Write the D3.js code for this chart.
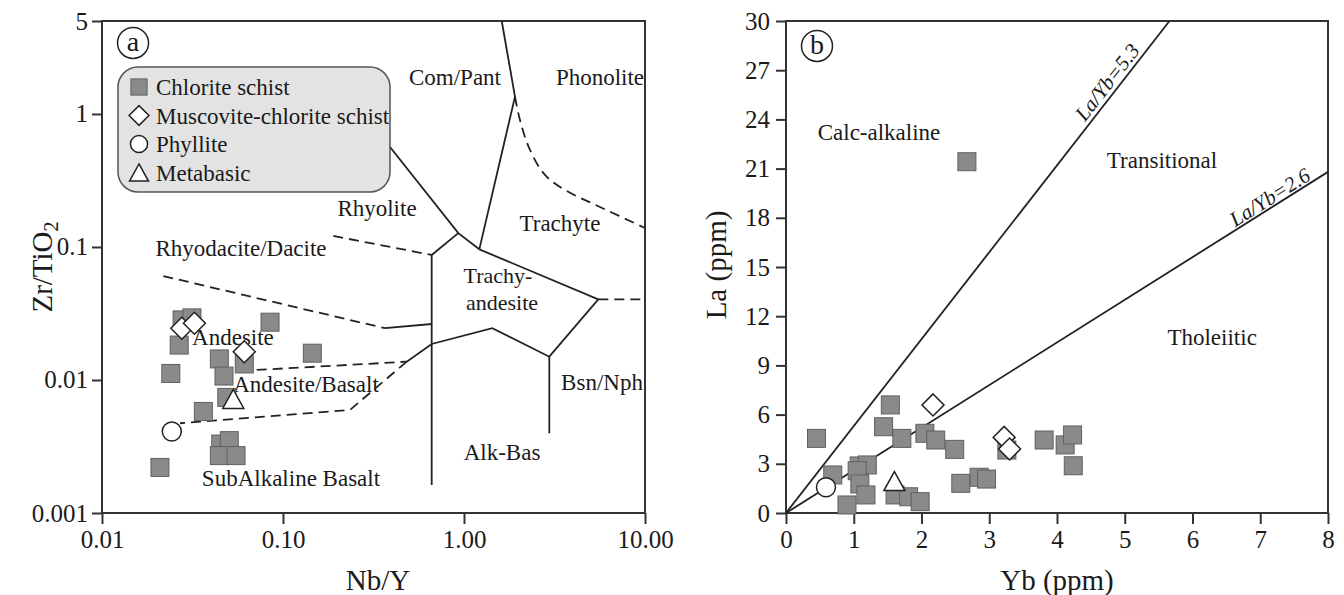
<!DOCTYPE html>
<html><head><meta charset="utf-8">
<script src="https://cdn.jsdelivr.net/npm/d3@7"></script>
<style>
body{margin:0;background:#fff;}
svg text{font-family:'Liberation Serif','Times New Roman',serif;fill:#1a1a1a;}
</style></head><body>
<svg id="c" width="1344" height="595"></svg>
<script>
// ---------- DATA ----------
const seriesNames = ["Chlorite schist", "Muscovite-chlorite schist", "Phyllite", "Metabasic"];

// Panel a: Nb/Y vs Zr/TiO2
const nbY_chlorite = [0.0277,0.0314,0.0848,0.0267,0.0445,0.1452,0.0611,0.0240,0.0472,0.0489,0.0363,0.0453,0.0505,0.0445,0.0550,0.0209];
const zrTi_chlorite = [0.0283,0.0293,0.0272,0.0183,0.0144,0.0159,0.0132,0.0112,0.0107,0.0074,0.0058,0.0033,0.0035,0.0027,0.0027,0.0022];
const nbY_muscovite = [0.0276,0.0324,0.0611];
const zrTi_muscovite = [0.0245,0.0267,0.0163];
const nbY_phyllite = [0.0243];
const zrTi_phyllite = [0.0041];
const nbY_metabasic = [0.0531];
const zrTi_metabasic = [0.0072];

// Panel b: Yb vs La
const yb_chlorite = [0.45,0.69,1.54,1.44,1.71,2.05,2.21,2.49,1.08,1.20,1.05,1.09,1.18,0.90,1.61,1.81,1.98,2.58,2.85,2.96,3.26,3.81,4.12,4.23,4.24,2.67];
const la_chlorite = [4.55,2.32,6.59,5.26,4.55,4.86,4.45,3.88,2.87,2.93,2.58,1.77,1.10,0.49,1.10,0.99,0.69,1.81,2.18,2.07,3.84,4.45,4.15,4.76,2.88,21.42];
const yb_muscovite = [2.17,3.22,3.30];
const la_muscovite = [6.59,4.61,3.90];
const yb_phyllite = [0.59];
const la_phyllite = [1.57];
const yb_metabasic = [1.60];
const la_metabasic = [1.95];

// Tick labels
const aXTicks = [0.01, 0.1, 1, 10];
const aXTickLabels = ["0.01", "0.10", "1.00", "10.00"];
const aYTicks = [0.001, 0.01, 0.1, 1, 5];
const aYTickLabels = ["0.001", "0.01", "0.1", "1", "5"];
const bXTicks = [0,1,2,3,4,5,6,7,8];
const bYTicks = [0,3,6,9,12,15,18,21,24,27,30];

// Winchester & Floyd field boundaries (Nb/Y, Zr/TiO2)
const wfSolid = [
  [[0.322,0.785],[0.93,0.127],[1.215,0.096]],
  [[1.616,5],[1.913,1.349],[1.215,0.096]],
  [[0.93,0.127],[0.663,0.0871],[0.663,0.001624]],
  [[1.215,0.096],[5.52,0.0404],[2.96,0.01497],[1.433,0.0245],[0.663,0.01865],[0.4826,0.01373]],
  [[2.96,0.01497],[2.96,0.00397]],
  [[0.366,0.0245],[0.663,0.02636]]
];
const wfDashedCurve = [[1.913,1.349],[2.038,0.901],[2.316,0.536],[2.802,0.348],[3.614,0.2683],[5.641,0.1999],[10,0.139]];
const wfDashed = [
  [[5.52,0.0404],[10,0.0404]],
  [[0.1896,0.121],[0.663,0.0871]],
  [[0.0218,0.0605],[0.366,0.0245]],
  [[0.0716,0.0119],[0.4826,0.01373]],
  [[0.4826,0.01373],[0.2345,0.00595],[0.02698,0.00473]]
];
const wfLabels = [
  ["Com/Pant", 0.892, 1.897], ["Phonolite", 5.64, 1.897], ["Rhyolite", 0.3306, 0.1965],
  ["Trachyte", 3.39, 0.1515], ["Trachy-", 1.541, 0.0615], ["andesite", 1.622, 0.0385],
  ["Bsn/Nph", 5.787, 0.00966], ["Alk-Bas", 1.622, 0.002875], ["SubAlkaline Basalt", 0.1107, 0.001833],
  ["Rhyodacite/Dacite", 0.0586, 0.0983], ["Andesite", 0.0529, 0.02105], ["Andesite/Basalt", 0.134, 0.00933]
];

// Panel b: discrimination ratios
const laYbRatios = [5.3, 2.6];
const bLabels = [["Calc-alkaline", 1.373, 23.23], ["Transitional", 5.55, 21.52], ["Tholeiitic", 6.29, 10.73]];
const ratioLabels = [["La/Yb=5.3", 4.738, 26.28], ["La/Yb=2.6", 7.14, 19.27]];

// ---------- DRAW ----------
const svg = d3.select("#c");
const FONT_TICK = 25, FONT_LAB = 23, FONT_TITLE = 29;

const ax = d3.scaleLog().domain([0.01, 10]).range([102, 645]);
const ay = d3.scaleLog().domain([0.001, 5]).range([513, 21]);
const bx = d3.scaleLinear().domain([0, 8]).range([786, 1328]);
const by = d3.scaleLinear().domain([0, 30]).range([513, 21]);

function styleAxis(g) {
  g.select(".domain").remove();
  g.selectAll(".tick line").attr("stroke", "#333").attr("stroke-width", 2);
  g.selectAll(".tick text").attr("font-size", FONT_TICK).attr("fill", "#1a1a1a")
    .attr("font-family", "'Liberation Serif','Times New Roman',serif");
}

// Axes panel a
svg.append("g").attr("transform", "translate(0,513)")
  .call(d3.axisBottom(ax).tickValues(aXTicks).tickFormat((d,i) => aXTickLabels[i]).tickSize(11).tickPadding(6))
  .call(styleAxis);
svg.append("g").attr("transform", "translate(102,0)")
  .call(d3.axisLeft(ay).tickValues(aYTicks).tickFormat((d,i) => aYTickLabels[i]).tickSize(10).tickPadding(4))
  .call(styleAxis);
// Axes panel b
svg.append("g").attr("transform", "translate(0,513)")
  .call(d3.axisBottom(bx).tickValues(bXTicks).tickFormat(d3.format("d")).tickSize(11).tickPadding(6))
  .call(styleAxis);
svg.append("g").attr("transform", "translate(786,0)")
  .call(d3.axisLeft(by).tickValues(bYTicks).tickFormat(d3.format("d")).tickSize(10).tickPadding(6))
  .call(styleAxis);

// Frames
[[ax, ay], [bx, by]].forEach(([sx, sy]) => {
  const [x0, x1] = sx.range(), [y0, y1] = sy.range();
  svg.append("rect").attr("x", x0).attr("y", y1).attr("width", x1 - x0).attr("height", y0 - y1)
    .attr("fill", "none").attr("stroke", "#333").attr("stroke-width", 2);
});

// Panel a boundaries
const aLine = d3.line().x(d => ax(d[0])).y(d => ay(d[1]));
const aCurve = d3.line().x(d => ax(d[0])).y(d => ay(d[1])).curve(d3.curveCatmullRom);
const gA = svg.append("g");
wfSolid.forEach(p => gA.append("path").attr("d", aLine(p)).attr("fill", "none").attr("stroke", "#222").attr("stroke-width", 1.8));
wfDashed.forEach(p => gA.append("path").attr("d", aLine(p)).attr("fill", "none").attr("stroke", "#222").attr("stroke-width", 1.8).attr("stroke-dasharray", "10,6"));
gA.append("path").attr("d", aCurve(wfDashedCurve)).attr("fill", "none").attr("stroke", "#222").attr("stroke-width", 1.8).attr("stroke-dasharray", "10,6");
wfLabels.forEach(([t, x, y]) => gA.append("text").attr("x", ax(x)).attr("y", ay(y)).attr("dy", "0.35em")
  .attr("text-anchor", "middle").attr("font-size", (t === "Trachy-" || t === "andesite") ? 22 : FONT_LAB).text(t));

// Panel b ratio lines
const bLine = d3.line().x(d => bx(d[0])).y(d => by(d[1]));
laYbRatios.forEach(r => {
  const end = Math.min(8, 30 / r);
  svg.append("path").attr("d", bLine([[0, 0], [end, end * r]])).attr("fill", "none").attr("stroke", "#222").attr("stroke-width", 1.8);
});
bLabels.forEach(([t, x, y]) => svg.append("text").attr("x", bx(x)).attr("y", by(y)).attr("dy", "0.35em")
  .attr("text-anchor", "middle").attr("font-size", FONT_LAB).text(t));
ratioLabels.forEach(([t, x, y], i) => {
  const r = laYbRatios[i];
  const ang = -Math.atan2(by(0) - by(r), bx(1) - bx(0)) * 180 / Math.PI;
  svg.append("text").attr("transform", `translate(${bx(x)},${by(y)}) rotate(${ang})`).attr("dy", "0.35em")
    .attr("text-anchor", "middle").attr("font-size", 21).attr("font-style", "italic").text(t);
});

// Symbols
const SQ = 18;
function drawSeries(g, sx, sy, xs, ys, kind) {
  xs.forEach((xv, i) => drawSymbol(g, sx(xv), sy(ys[i]), kind, 1));
}
function drawSymbol(g, cx, cy, kind, s) {
  if (kind === 0) {
    g.append("rect").attr("x", cx - SQ*s/2).attr("y", cy - SQ*s/2).attr("width", SQ*s).attr("height", SQ*s)
      .attr("fill", "#8a8a8c").attr("stroke", "#606060").attr("stroke-width", 1);
  } else if (kind === 1) {
    const r = 11 * s;
    g.append("path").attr("d", `M${cx},${cy-r}L${cx+r},${cy}L${cx},${cy+r}L${cx-r},${cy}Z`)
      .attr("fill", "#fff").attr("stroke", "#222").attr("stroke-width", 1.5);
  } else if (kind === 2) {
    g.append("circle").attr("cx", cx).attr("cy", cy).attr("r", 9.5 * s)
      .attr("fill", "#fff").attr("stroke", "#222").attr("stroke-width", 1.5);
  } else {
    const w = 10.5 * s, h = 9.5 * s;
    g.append("path").attr("d", `M${cx},${cy-h}L${cx+w},${cy+h}L${cx-w},${cy+h}Z`)
      .attr("fill", "#fff").attr("stroke", "#222").attr("stroke-width", 1.5);
  }
}
const gPa = svg.append("g");
drawSeries(gPa, ax, ay, nbY_chlorite, zrTi_chlorite, 0);
drawSeries(gPa, ax, ay, nbY_muscovite, zrTi_muscovite, 1);
drawSeries(gPa, ax, ay, nbY_phyllite, zrTi_phyllite, 2);
drawSeries(gPa, ax, ay, nbY_metabasic, zrTi_metabasic, 3);
const gPb = svg.append("g");
drawSeries(gPb, bx, by, yb_chlorite, la_chlorite, 0);
drawSeries(gPb, bx, by, yb_muscovite, la_muscovite, 1);
drawSeries(gPb, bx, by, yb_phyllite, la_phyllite, 2);
drawSeries(gPb, bx, by, yb_metabasic, la_metabasic, 3);

// Legend
const lg = svg.append("g");
lg.append("rect").attr("x", 118).attr("y", 67).attr("width", 272).attr("height", 125).attr("rx", 20).attr("ry", 20)
  .attr("fill", "#e3e3e3").attr("stroke", "#555").attr("stroke-width", 1.5);
seriesNames.forEach((n, i) => {
  const y = 87 + i * 28.5;
  drawSymbol(lg, 139, y, i, 0.9);
  lg.append("text").attr("x", 156).attr("y", y).attr("dy", "0.35em").attr("font-size", FONT_LAB).text(n);
});

// Panel letters
[["a", ax(0.01484), ay(3.42)], ["b", bx(0.4576), by(28.48)]].forEach(([t, x, y]) => {
  svg.append("circle").attr("cx", x).attr("cy", y).attr("r", 15.5).attr("fill", "none").attr("stroke", "#222").attr("stroke-width", 1.5);
  svg.append("text").attr("x", x).attr("y", y).attr("dy", "0.3em").attr("text-anchor", "middle").attr("font-size", 28).text(t);
});

// Axis titles
svg.append("text").attr("x", 378).attr("y", 580).attr("dy", "0.35em").attr("text-anchor", "middle").attr("font-size", FONT_TITLE).text("Nb/Y");
svg.append("text").attr("x", 1057).attr("y", 580).attr("dy", "0.35em").attr("text-anchor", "middle").attr("font-size", FONT_TITLE).text("Yb (ppm)");
const zt = svg.append("text").attr("transform", "translate(42,267) rotate(-90)").attr("dy", "0.35em").attr("text-anchor", "middle").attr("font-size", FONT_TITLE);
zt.append("tspan").text("Zr/TiO");
zt.append("tspan").attr("font-size", 20).attr("dy", "0.3em").text("2");
svg.append("text").attr("transform", "translate(716,265) rotate(-90)").attr("dy", "0.35em").attr("text-anchor", "middle").attr("font-size", FONT_TITLE).text("La (ppm)");
</script>
</body></html>
